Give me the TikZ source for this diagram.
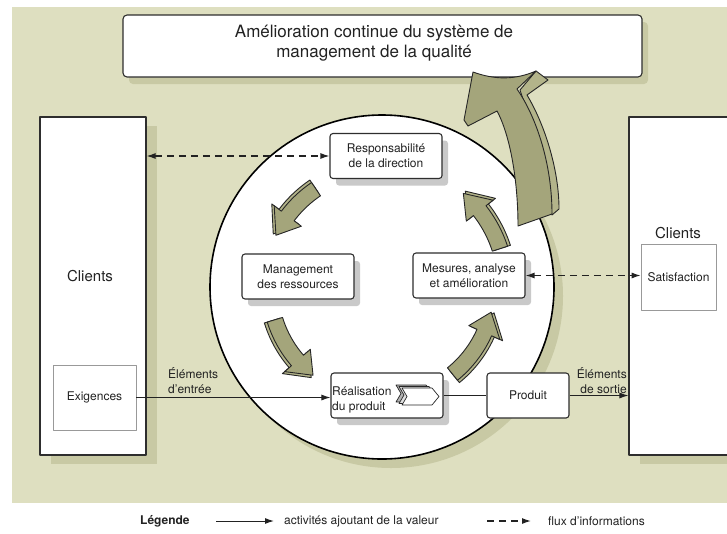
\documentclass[tikz,border=0pt]{standalone}
\usepackage{fontspec}
\setmainfont{TeX Gyre Heros}
\usetikzlibrary{arrows.meta,shadows}

\definecolor{khaki}{HTML}{DEDFC0}
\definecolor{khakishade}{HTML}{C8C9A4}
\definecolor{olive}{HTML}{A4A57B}
\definecolor{oliveside}{HTML}{B3B48A}
\definecolor{boxline}{HTML}{2E2E2E}
\definecolor{boxshade}{HTML}{C9C9C9}
\definecolor{ink}{HTML}{222222}

\tikzset{
  txt/.style={font=\fontsize{12}{15}\selectfont, text=ink, align=center, inner sep=0pt},
  procplain/.style={draw=boxline, line width=1.1pt, rounded corners=3pt, fill=white,
    minimum width=112pt, minimum height=45pt, txt},
  procbox/.style={procplain, drop shadow={shadow xshift=6pt, shadow yshift=-7pt, fill=boxshade, opacity=1}},
  clientbox/.style={draw=boxline, line width=1.1pt, fill=white,
    drop shadow={shadow xshift=11pt, shadow yshift=-9pt, fill=khakishade, opacity=1}},
  subbox/.style={draw=black!40, line width=0.7pt, fill=white, txt},
  banner/.style={draw=boxline, line width=1.1pt, rounded corners=4pt, fill=white,
    drop shadow={shadow xshift=6pt, shadow yshift=-7pt, fill=khakishade, opacity=1}},
  bigtxt/.style={font=\fontsize{15}{18}\selectfont, text=ink, inner sep=0pt},
  flow/.style={line width=1pt, draw=ink, -{Latex[length=9pt,width=6pt]}},
  info/.style={line width=1.2pt, draw=ink, dash pattern=on 7pt off 5pt,
    {Latex[length=9pt,width=6pt]}-{Latex[length=9pt,width=6pt]}},
  infoone/.style={line width=1.2pt, draw=ink, dash pattern=on 7pt off 5pt, -{Latex[length=9pt,width=6pt]}},
  olivefront/.style={fill=olive, draw=black!85, line width=0.9pt, line join=round},
  oliveback/.style={fill=oliveside, draw=black!85, line width=0.9pt, line join=round},
}

% curved block arrow around the cycle centre: radius, tail angle, head-base angle, tip angle
\newcommand\cyclearrow[4]{%
  \filldraw[oliveback]
    plot[domain=0:1, samples=14] ({#2+\x*(#3-#2)}:{#1+11}) -- ({#3}:{#1+20}) -- ({#4}:{#1+3})
    -- ({#3}:{#1-14}) -- plot[domain=0:1, samples=14] ({#3+\x*(#2-#3)}:{#1-5}) -- cycle;
  \filldraw[olivefront]
    plot[domain=0:1, samples=14] ({#2+\x*(#3-#2)}:{#1+8}) -- ({#3}:{#1+17}) -- ({#4}:{#1})
    -- ({#3}:{#1-17}) -- plot[domain=0:1, samples=14] ({#3+\x*(#2-#3)}:{#1-8}) -- cycle;
}

\begin{document}
\begin{tikzpicture}[x=1pt, y=-1pt, line join=round]
\useasboundingbox (0,0) rectangle (727,533);
\fill[white] (0,0) rectangle (727,533);
\fill[khaki] (12,7) rectangle (727,503);

% process cycle
\node[circle, draw=black, line width=1.6pt, fill=white, minimum size=344pt, inner sep=0pt,
  drop shadow={shadow xshift=9pt, shadow yshift=-9pt, fill=khakishade, opacity=1}] (cycle) at (382,287) {};

% continual improvement banner
\node[banner, minimum width=519pt, minimum height=62pt] (qms) at (382.5,46) {};
\node[font=\fontsize{17}{20}\selectfont, text=ink, align=center, inner sep=0pt] (qmstxt) at (374,43)
  {Amélioration continue du système de\\management de la qualité};

% large improvement arrow rising to the banner: side face, then front face
\filldraw[oliveback]
  (536,71) -- (548,80) -- (527,95) .. controls (545,125) and (559,170) .. (559,209)
  -- (552,215) -- (540,150) -- (520,90) -- cycle;
\filldraw[olivefront]
  (473,72) .. controls (495,80) and (515,80) .. (536,71) -- (517,89)
  .. controls (537,118) and (552,165) .. (552,214) -- (518,226)
  .. controls (518,180) and (510,135) .. (497,111) -- (468,126) -- (464,120) -- cycle;

% customers
\node[clientbox, minimum width=106pt, minimum height=338pt] (cl) at (93,286) {};
\node[bigtxt] (cltxt) at (90,276) {Clients};
\node[subbox, minimum width=83pt, minimum height=65pt] (exig) at (94.5,397.5) {Exigences};

\node[clientbox, minimum width=110pt, minimum height=338pt] (cr) at (684,286) {};
\node[bigtxt] (crtxt) at (678,233) {Clients};
\node[subbox, minimum width=75pt, minimum height=66pt] (sat) at (678.5,277) {Satisfaction};

% processes
\node[procbox] (resp) at (386,156) {Responsabilité\\de la direction};
\node[procbox] (mgmt) at (298,276.5) {Management\\des ressources};
\node[procbox] (mes) at (469,275.5) {Mesures, analyse\\et amélioration};
\node[procbox] (real) at (387,395.5) {};
\foreach \dx/\dy/\col in {-6/-3/gray!60, -3/-1.5/gray!25, 0/0/white}
  \filldraw[fill=\col, draw=black!85, line width=0.7pt, shift={(\dx,\dy)}]
    (402,388) -- (432,388) -- (439,396.5) -- (432,405) -- (402,405) -- (407,396.5) -- cycle;
\node[txt, align=left, anchor=west] (realtxt) at (332,399.5) {Réalisation\\du produit};
\node[procplain, minimum width=82pt] (prod) at (528,395.5) {Produit};

% cycle arrows
\begin{scope}[shift={(382,287)}]
  \cyclearrow{118}{236}{217}{206}
  \cyclearrow{112}{163}{139}{128}
  \cyclearrow{112}{51}{24}{13}
  \cyclearrow{124}{-18}{-38}{-49}
\end{scope}

% flows
\draw[flow] (exig.east) -- (exig.east -| real.west);
\draw[line width=1pt, draw=ink] (real.east) -- (prod.west);
\draw[flow] (prod.east) -- (prod.east -| cr.west);
\draw[info] (cl.east |- resp.west) -- (resp.west);
\draw[info] (mes.east) -- (mes.east -| sat.west);

\node[txt, align=left, anchor=west] (inlbl) at (168,380.5) {Éléments\\d'entrée};
\node[txt, align=right, anchor=east] (outlbl) at (627,380.5) {Éléments\\de sortie};

% legend
\node[txt, anchor=west, font=\fontsize{12}{15}\selectfont\bfseries] (lgd) at (140,521) {Légende};
\coordinate (sa) at (216,521);
\coordinate (sb) at (274,521);
\draw[flow] (sa) -- (sb);
\node[txt, anchor=west] (sav) at (284,521) {activités ajoutant de la valeur};
\coordinate (da) at (487,521);
\coordinate (db) at (531,521);
\draw[infoone] (da) -- (db);
\node[txt, anchor=west] (dav) at (548,521) {flux d'informations};
\end{tikzpicture}
\end{document}
